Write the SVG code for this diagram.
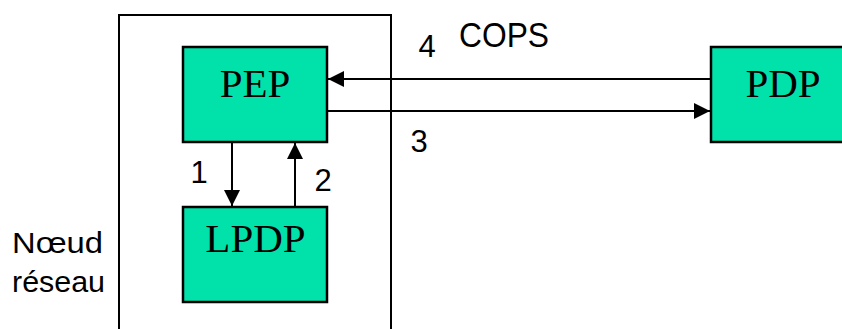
<svg xmlns="http://www.w3.org/2000/svg" width="842" height="329" viewBox="0 0 842 329">
<style>
.box{fill:#00e2aa;stroke:#000;stroke-width:2.5}
.frame{fill:none;stroke:#000;stroke-width:2}
.lbl{font-family:"Liberation Serif","Times New Roman",serif;font-size:41px;fill:#000;text-anchor:middle}
.num{font-family:"Liberation Sans",Arial,sans-serif;font-size:31px;fill:#000;text-anchor:middle}
.side{font-family:"Liberation Sans",Arial,sans-serif;font-size:29px;fill:#000}
.cops{font-family:"Liberation Sans",Arial,sans-serif;font-size:35px;fill:#000}
.con{stroke:#000;stroke-width:2;fill:none;marker-end:url(#ah)}
</style>
<defs>
<marker id="ah" viewBox="0 0 16 16" refX="16" refY="8" markerWidth="16" markerHeight="16" markerUnits="userSpaceOnUse" orient="auto">
<path d="M0,0 L16,8 L0,16 Z" fill="#000"/>
</marker>
</defs>
<rect width="842" height="329" fill="#fff"/>
<g id="noeud">
<path class="frame" d="M119,340 V15 H391 V340"/>
<text class="side" x="12" y="253" textLength="91" lengthAdjust="spacingAndGlyphs">Nœud</text>
<text class="side" x="12" y="292" textLength="93" lengthAdjust="spacingAndGlyphs">réseau</text>
</g>
<g id="pep">
<rect class="box" x="183" y="47" width="144" height="95"/>
<text class="lbl" x="255" y="97">PEP</text>
</g>
<g id="lpdp">
<rect class="box" x="183" y="207" width="144" height="95"/>
<text class="lbl" x="255.5" y="252">LPDP</text>
</g>
<g id="pdp">
<rect class="box" x="711" y="47" width="160" height="95"/>
<text class="lbl" x="783" y="97">PDP</text>
</g>
<g id="connectors">
<line class="con" x1="232" y1="142" x2="232" y2="206"/>
<line class="con" x1="295" y1="207" x2="295" y2="143"/>
<line class="con" x1="711" y1="79" x2="328" y2="79"/>
<line class="con" x1="327" y1="111" x2="710" y2="111"/>
<text class="num" x="199" y="183">1</text>
<text class="num" x="323" y="191">2</text>
<text class="num" x="419" y="152">3</text>
<text class="num" x="427" y="57">4</text>
<text class="cops" x="459" y="47" textLength="90" lengthAdjust="spacingAndGlyphs">COPS</text>
</g>
</svg>
